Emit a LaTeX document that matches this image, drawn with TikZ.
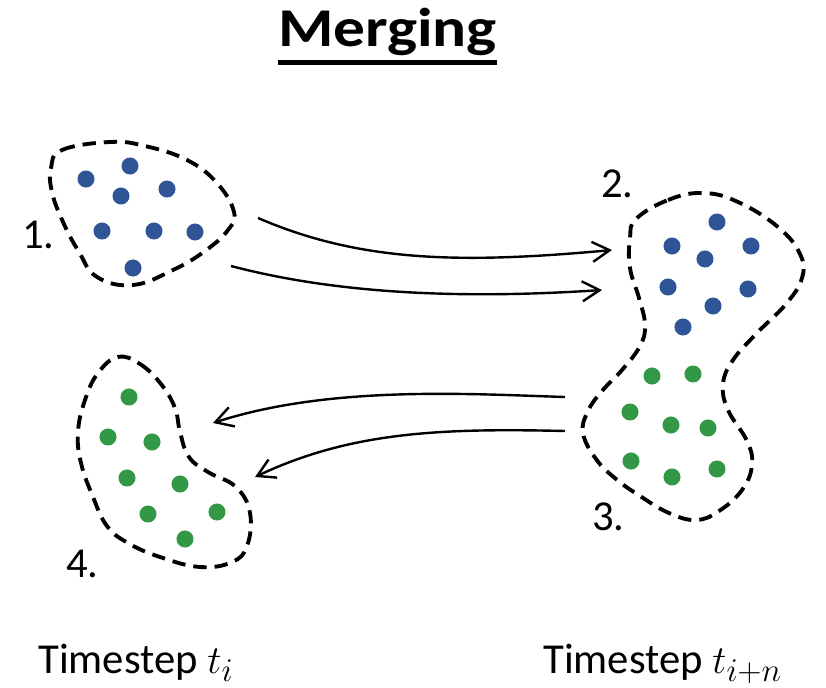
\documentclass[tikz,border=0pt]{standalone}
\usepackage{fontspec}
\setmainfont{Carlito}
\usetikzlibrary{arrows.meta}
\definecolor{dotblue}{RGB}{47,85,151}
\definecolor{dotgreen}{RGB}{50,152,70}
\tikzset{
  blob/.style={draw=black, line width=2.9pt, dash pattern=on 10pt off 6pt},
  bdot/.style={fill=dotblue, draw=none},
  gdot/.style={fill=dotgreen, draw=none},
  flow/.style={draw=black, line width=1.8pt, -{Straight Barb[length=13pt,width=15pt,line width=1.8pt]}},
  lbl/.style={anchor=base west, inner sep=0pt, font=\fontsize{32}{38}\selectfont},
}
\newcommand{\mybigmath}[1]{\scalebox{1.2}{$#1$}}
\begin{document}
\begin{tikzpicture}[x=0.75pt,y=-0.75pt]
\useasboundingbox (0,0) rectangle (826,687);
% title
\node[anchor=base, inner sep=0pt, font=\fontsize{41}{46}\selectfont\bfseries] (title) at (387.5,46) {\scalebox{1.16}[1]{Merging}};
\draw[line width=3.4pt] ([yshift=-12.5pt]title.base west) -- ([yshift=-12.5pt]title.base east);

% blob 1
\draw[blob] plot[smooth cycle, tension=0.7] coordinates {(51,168) (62,150) (110,142) (145,146) (187,160) (217,183) (234,212) (228,230) (205,251) (173,270) (133,285) (97,277) (79,252) (63,222) (52,192)};
% blob 2+3
\draw[blob] plot[smooth cycle, tension=0.7] coordinates {(636,219) (668,200) (703,193) (738,202) (778,227) (800,254) (802,278) (786,304) (757,333) (733,360) (723,384) (728,410) (747,441) (752,465) (742,490) (719,511) (696,520) (669,513) (640,496) (616,479) (596,459) (583,433) (588,411) (602,391) (622,370) (640,346) (645,325) (639,298) (630,268) (630,238)};
% blob 4
\draw[blob] plot[smooth cycle, tension=0.7] coordinates {(118,357) (140,364) (161,384) (175,408) (180,432) (189,457) (208,472) (236,487) (250,513) (247,546) (232,562) (200,567) (160,557) (128,543) (107,526) (93,497) (81,463) (78,432) (85,400) (98,373)};

% blue dots blob 1
\foreach \p in {(86,179),(130,166),(121,196),(167,189),(102,231),(154,231),(195,232),(133,268)}
  \fill[bdot] \p circle[radius=6.4pt];
% blue dots blob 2
\foreach \p in {(717,222),(672,246),(751,246),(705,259),(668,287),(748,289),(713,306),(683,327)}
  \fill[bdot] \p circle[radius=6.4pt];
% green dots blob 3
\foreach \p in {(652,376),(693,374),(630,412),(671,425),(708,428),(631,461),(672,477),(717,469)}
  \fill[gdot] \p circle[radius=6.4pt];
% green dots blob 4
\foreach \p in {(129,397),(108,437),(152,442),(127,478),(180,484),(148,514),(217,512),(185,539)}
  \fill[gdot] \p circle[radius=6.4pt];

% labels
\node[lbl] (l1) at (22,248) {1.};
\node[lbl] (l2) at (601,197) {2.};
\node[lbl] (l3) at (592,530) {3.};
\node[lbl] (l4) at (66,577) {4.};
\node[lbl] (ti) at (38,673) {Timestep \mybigmath{t_i}};
\node[lbl] (tin) at (543,673) {Timestep \mybigmath{t_{i+n}}};

% arrow coordinates
\coordinate (a1s) at (258,218);
\coordinate (a1e) at (612,250);
\coordinate (a2s) at (231,266);
\coordinate (a2e) at (602,290);
\coordinate (a3s) at (565,397);
\coordinate (a3e) at (213,423);
\coordinate (a4s) at (565,431);
\coordinate (a4e) at (255,477);

\draw[flow] (a1s) .. controls (360,262) and (460,264) .. (a1e);
\draw[flow] (a2s) .. controls (330,292) and (450,300) .. (a2e);
\draw[flow] (a3s) .. controls (470,394) and (330,385) .. (a3e);
\draw[flow] (a4s) .. controls (440,428) and (350,432) .. (a4e);
\end{tikzpicture}
\end{document}
